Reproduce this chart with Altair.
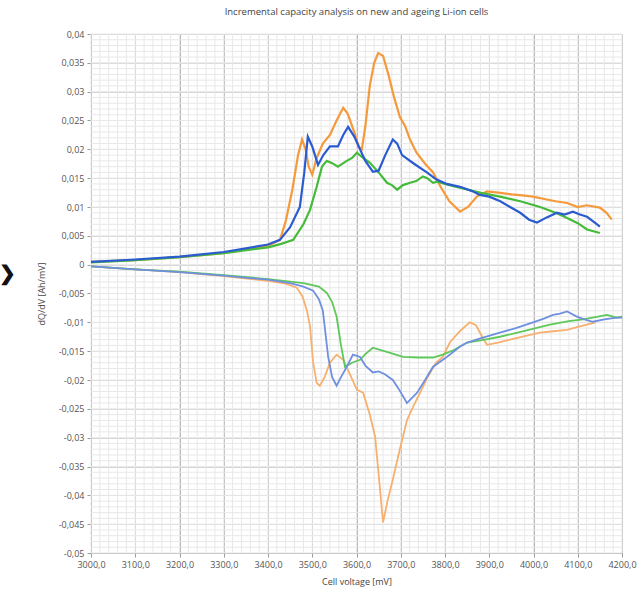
import altair as alt
import pandas as pd

# ---- data ----
chg_orange_v = [3000, 3100, 3200, 3300, 3400, 3427, 3440, 3455, 3468, 3477, 3485, 3492, 3500, 3510, 3524, 3540, 3555, 3570, 3580, 3595, 3605, 3612, 3620, 3630, 3640, 3649, 3660, 3672, 3685, 3698, 3710, 3721, 3735, 3755, 3773, 3790, 3810, 3834, 3852, 3872, 3895, 3920, 3950, 3975, 3999, 4030, 4050, 4076, 4100, 4120, 4150, 4165, 4177]
chg_orange_y = [0.0005, 0.0008, 0.0013, 0.0020, 0.0033, 0.0043, 0.0075, 0.0130, 0.0190, 0.0217, 0.0200, 0.0170, 0.0156, 0.0185, 0.0210, 0.0225, 0.0250, 0.0272, 0.0262, 0.0230, 0.0205, 0.0200, 0.0240, 0.0310, 0.0350, 0.0367, 0.0362, 0.0330, 0.0290, 0.0256, 0.0240, 0.0217, 0.0195, 0.0175, 0.0160, 0.0135, 0.0110, 0.0092, 0.0100, 0.0118, 0.0127, 0.0125, 0.0122, 0.0120, 0.0118, 0.0113, 0.0110, 0.0107, 0.0100, 0.0103, 0.0099, 0.0090, 0.0078]

chg_blue_v = [3000, 3100, 3200, 3300, 3400, 3427, 3450, 3472, 3482, 3490, 3500, 3513, 3525, 3540, 3558, 3570, 3581, 3595, 3608, 3620, 3637, 3650, 3665, 3682, 3692, 3703, 3730, 3759, 3780, 3804, 3834, 3860, 3879, 3900, 3925, 3947, 3970, 3990, 4008, 4030, 4053, 4070, 4089, 4105, 4121, 4140, 4150]
chg_blue_y = [0.0005, 0.0009, 0.0014, 0.0022, 0.0035, 0.0043, 0.0065, 0.0100, 0.0160, 0.0222, 0.0205, 0.0173, 0.0190, 0.0205, 0.0205, 0.0225, 0.0239, 0.0222, 0.0200, 0.0180, 0.0161, 0.0163, 0.0190, 0.0217, 0.0210, 0.0190, 0.0175, 0.0160, 0.0148, 0.0140, 0.0135, 0.0128, 0.0121, 0.0118, 0.0110, 0.0100, 0.0090, 0.0078, 0.0073, 0.0082, 0.0090, 0.0087, 0.0092, 0.0087, 0.0083, 0.0072, 0.0066]

chg_green_v = [3000, 3100, 3200, 3300, 3400, 3430, 3457, 3480, 3495, 3510, 3522, 3533, 3545, 3558, 3578, 3590, 3601, 3615, 3630, 3650, 3669, 3680, 3692, 3705, 3721, 3735, 3750, 3760, 3773, 3782, 3810, 3840, 3879, 3924, 3970, 4015, 4050, 4076, 4100, 4121, 4150]
chg_green_y = [0.0004, 0.0008, 0.0013, 0.0020, 0.0030, 0.0036, 0.0043, 0.0070, 0.0095, 0.0135, 0.0170, 0.0180, 0.0176, 0.0170, 0.0180, 0.0185, 0.0194, 0.0185, 0.0177, 0.0160, 0.0142, 0.0138, 0.0130, 0.0138, 0.0142, 0.0145, 0.0153, 0.0150, 0.0142, 0.0144, 0.0138, 0.0132, 0.0125, 0.0118, 0.0110, 0.0100, 0.0090, 0.0081, 0.0072, 0.0061, 0.0055]

dis_orange_v = [3000, 3100, 3200, 3300, 3400, 3440, 3465, 3478, 3488, 3495, 3502, 3510, 3517, 3528, 3540, 3555, 3570, 3585, 3601, 3615, 3630, 3642, 3652, 3660, 3670, 3682, 3698, 3714, 3728, 3745, 3759, 3780, 3795, 3811, 3834, 3856, 3870, 3884, 3895, 3920, 3947, 3980, 4015, 4050, 4076, 4100, 4121, 4140]
dis_orange_y = [-0.0003, -0.0008, -0.0013, -0.0020, -0.0028, -0.0033, -0.0040, -0.0055, -0.0080, -0.0107, -0.0170, -0.0205, -0.0210, -0.0195, -0.0170, -0.0156, -0.0165, -0.0190, -0.0217, -0.0222, -0.0260, -0.0298, -0.0380, -0.0447, -0.0410, -0.0373, -0.0320, -0.0270, -0.0246, -0.0220, -0.0197, -0.0170, -0.0160, -0.0135, -0.0115, -0.0100, -0.0105, -0.0125, -0.0139, -0.0135, -0.0130, -0.0124, -0.0118, -0.0115, -0.0113, -0.0108, -0.0104, -0.0100]

dis_blue_v = [3000, 3100, 3200, 3300, 3400, 3450, 3480, 3502, 3515, 3524, 3530, 3536, 3545, 3555, 3565, 3578, 3592, 3608, 3620, 3637, 3650, 3664, 3682, 3695, 3714, 3737, 3755, 3773, 3804, 3834, 3850, 3880, 3924, 3960, 3999, 4025, 4044, 4060, 4076, 4098, 4115, 4134, 4160, 4188, 4200]
dis_blue_y = [-0.0003, -0.0008, -0.0013, -0.0019, -0.0026, -0.0032, -0.0038, -0.0045, -0.0060, -0.0080, -0.0120, -0.0160, -0.0195, -0.0210, -0.0195, -0.0177, -0.0156, -0.0160, -0.0175, -0.0187, -0.0185, -0.0190, -0.0200, -0.0215, -0.0240, -0.0222, -0.0200, -0.0177, -0.0160, -0.0142, -0.0135, -0.0128, -0.0118, -0.0110, -0.0100, -0.0093, -0.0087, -0.0085, -0.0081, -0.0090, -0.0095, -0.0099, -0.0095, -0.0092, -0.0092]

dis_green_v = [3000, 3100, 3200, 3300, 3400, 3480, 3515, 3533, 3545, 3555, 3565, 3574, 3590, 3608, 3620, 3637, 3655, 3676, 3705, 3740, 3773, 3795, 3820, 3850, 3890, 3924, 3980, 4037, 4080, 4112, 4140, 4166, 4188, 4200]
dis_green_y = [-0.0003, -0.0008, -0.0012, -0.0018, -0.0025, -0.0032, -0.0038, -0.0049, -0.0065, -0.0090, -0.0140, -0.0177, -0.0170, -0.0165, -0.0155, -0.0144, -0.0148, -0.0153, -0.0160, -0.0161, -0.0161, -0.0156, -0.0148, -0.0135, -0.0130, -0.0125, -0.0115, -0.0104, -0.0098, -0.0095, -0.0091, -0.0087, -0.0092, -0.0090]

x_ticks = [3000, 3100, 3200, 3300, 3400, 3500, 3600, 3700, 3800, 3900, 4000, 4100, 4200]
y_ticks = [0.04, 0.035, 0.03, 0.025, 0.02, 0.015, 0.01, 0.005, 0, -0.005, -0.01, -0.015, -0.02,
           -0.025, -0.03, -0.035, -0.04, -0.045, -0.05]
x_minor = list(range(3000, 4201, 20))
y_minor = [round(-0.05 + i * 0.001, 3) for i in range(91)]

series = [
    ("dis_orange", dis_orange_v, dis_orange_y),
    ("dis_green", dis_green_v, dis_green_y),
    ("dis_blue", dis_blue_v, dis_blue_y),
    ("chg_orange", chg_orange_v, chg_orange_y),
    ("chg_green", chg_green_v, chg_green_y),
    ("chg_blue", chg_blue_v, chg_blue_y),
]
rows = []
for i, (name, vs, ys_) in enumerate(series):
    for v, y in zip(vs, ys_):
        rows.append({"series": name, "V": v, "dQdV": y,
                     "w": 2.2 if name.startswith("chg") else 1.8})
df = pd.DataFrame(rows)

names = [s[0] for s in series]
colors = ["#f7b06e", "#5ec85a", "#6f8fe0", "#f59a3c", "#45bb3a", "#2a5cd0"]

FONT = "Open Sans"
xs = alt.Scale(domain=[3000, 4200], nice=False, zero=False)
ys = alt.Scale(domain=[-0.05, 0.04], nice=False, zero=False)

x_axis = alt.Axis(values=x_ticks, grid=True, gridColor="#b8b8b8", gridWidth=1,
                  labelExpr="replace(format(datum.value, '.1f'), '.', ',')",
                  labelFlush=False, labelOverlap=False,
                  tickSize=4, tickColor="#999", domainColor="#aaa",
                  labelFontSize=9, labelColor="#555", labelFont=FONT,
                  titleFontSize=9, titleFont=FONT, titleColor="#444",
                  titleFontWeight="normal", titlePadding=8, labelPadding=3)
y_axis = alt.Axis(values=y_ticks, grid=True, gridColor="#d4d4d4", gridWidth=1,
                  labelExpr="replace(replace(format(datum.value, '~g'), '.', ','), '\u2212', '-')",
                  labelFlush=False, labelOverlap=False,
                  tickSize=4, tickColor="#999", domainColor="#aaa",
                  labelFontSize=9, labelColor="#555", labelFont=FONT,
                  titleFontSize=9, titleFont=FONT, titleColor="#444",
                  titleFontWeight="normal", titlePadding=12, labelPadding=3)
X_TITLE = "Cell voltage [mV]"
Y_TITLE = "dQ/dV [Ah/mV]"

minor_v = alt.Chart(pd.DataFrame({"V": x_minor})).mark_rule(
    color="#e8e8e8", strokeWidth=1).encode(
    x=alt.X("V:Q", scale=xs, axis=x_axis, title=X_TITLE))
minor_h = alt.Chart(pd.DataFrame({"dQdV": y_minor})).mark_rule(
    color="#e8e8e8", strokeWidth=1).encode(
    y=alt.Y("dQdV:Q", scale=ys, axis=y_axis, title=Y_TITLE))

lines = alt.Chart(df).mark_line(interpolate="linear").encode(
    x=alt.X("V:Q", scale=xs, axis=x_axis, title=X_TITLE),
    y=alt.Y("dQdV:Q", scale=ys, axis=y_axis, title=Y_TITLE),
    color=alt.Color("series:N", scale=alt.Scale(domain=names, range=colors), legend=None),
    strokeWidth=alt.StrokeWidth("w:Q", scale=None, legend=None),
    detail="series:N",
    order=alt.Order("V:Q"),
)

arrow = alt.Chart(pd.DataFrame({"t": ["\u276f"]})).mark_text(
    fontSize=20, fontWeight="bold", color="#111", align="center", baseline="middle"
).encode(text="t:N", x=alt.value(-84), y=alt.value(240))

chart = alt.layer(minor_v, minor_h, lines, arrow).properties(
    width=531, height=519,
    title=alt.TitleParams("Incremental capacity analysis on new and ageing Li-ion cells",
                          fontSize=9.5, font=FONT, color="#444", fontWeight="normal",
                          anchor="middle", offset=14),
    autosize=alt.AutoSizeParams(type="none"),
    padding={"left": 91, "top": 34, "right": 19, "bottom": 44},
).configure_view(stroke="#aaa", strokeWidth=1).configure(background="white")

chart.save("out.html", embed_options={"renderer": "svg", "actions": False})
